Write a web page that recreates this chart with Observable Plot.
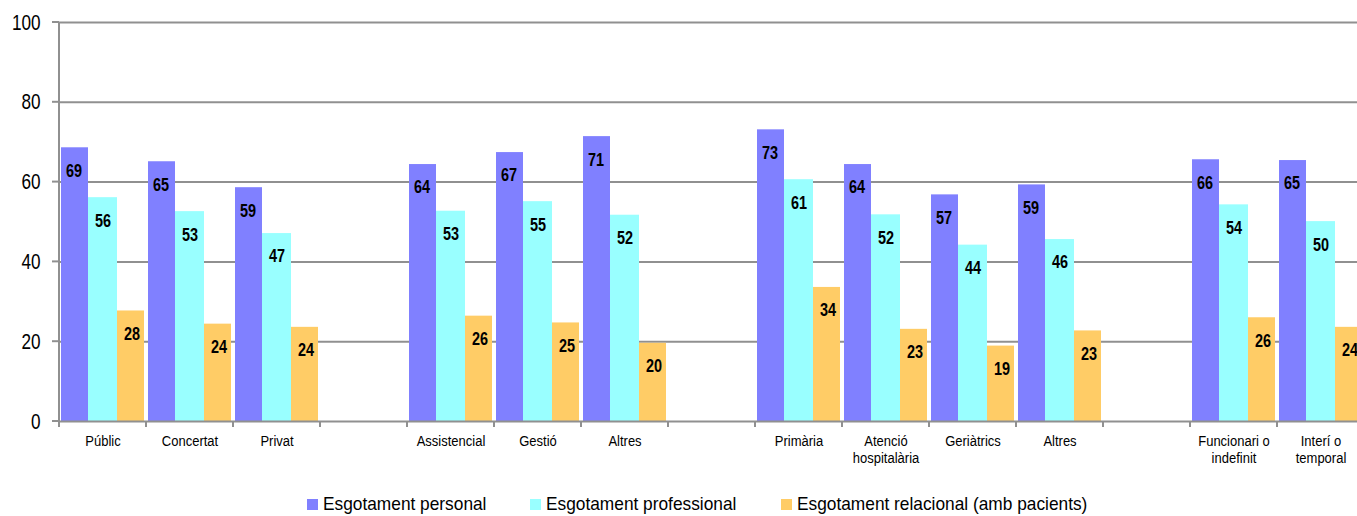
<!DOCTYPE html>
<html>
<head>
<meta charset="utf-8">
<script src="https://cdn.jsdelivr.net/npm/d3@7"></script>
<script src="https://cdn.jsdelivr.net/npm/@observablehq/plot@0.6"></script>
<style>
  html, body { margin: 0; padding: 0; background: #fff; overflow: hidden; }
  #chart svg { display: block; }
  .legend { position: relative; height: 46px; width: 1357px;
    font-family: "Liberation Sans", Arial, sans-serif; font-size: 18.5px; color: #000; }
  .legend .item { position: absolute; top: 34px; display: flex; align-items: center; white-space: nowrap; }
  .legend .sw { width: 11px; height: 11px; margin-right: 5px; flex: none; }
  .legend .lab { display: inline-block; transform: scaleX(0.935); transform-origin: left center; line-height: 22px; }
</style>
</head>
<body>
<div id="chart"></div>
<div class="legend" id="legend"></div>
<script>
// ---- data ----
const categories = ["Públic", "Concertat", "Privat", "", "Assistencial", "Gestió", "Altres", "",
  "Primària", "Atenció\nhospitalària", "Geriàtrics", "Altres", "", "Funcionari o\nindefinit", "Interí o\ntemporal"];
const seriesNames = ["Esgotament personal", "Esgotament professional", "Esgotament relacional (amb pacients)"];
const personal     = [68.6, 65.1, 58.6, null, 64.4, 67.4, 71.4, null, 73.1, 64.4, 56.8, 59.3, null, 65.6, 65.4];
const professional = [56.1, 52.6, 47.1, null, 52.7, 55.1, 51.7, null, 60.6, 51.8, 44.2, 45.6, null, 54.3, 50.1];
const relational   = [27.7, 24.4, 23.6, null, 26.4, 24.7, 19.6, null, 33.6, 23.1, 18.9, 22.7, null, 26.0, 23.6];
const yTicks = [0, 20, 40, 60, 80, 100];
const colors = ["#8080ff", "#99ffff", "#ffcc66"];

// ---- build table ----
const seriesValues = [personal, professional, relational];
const catKeys = categories.map((c, i) => "c" + i);
const xDomain = catKeys.flatMap(k => [0, 1, 2].map(j => k + "|" + j));
const rows = [];
seriesValues.forEach((vals, j) => vals.forEach((v, i) => {
  if (v != null) rows.push({key: catKeys[i] + "|" + j, s: seriesNames[j], j, v});
}));
const catRows = categories.map((c, i) => ({key: catKeys[i] + "|1", label: c}));

const gray = "#909090";
const font = "'Liberation Sans', Arial, sans-serif";

function axesLines(index, scales) {
  const x = scales.x, y = scales.y;
  const g = d3.create("svg:g").attr("stroke", gray).attr("stroke-width", 2).attr("fill", "none");
  const x0 = x(xDomain[0]);
  g.append("line").attr("x1", x0).attr("x2", x0).attr("y1", y(100)).attr("y2", y(0));
  for (const t of yTicks) {
    g.append("line").attr("x1", x0 - 7).attr("x2", x0).attr("y1", y(t)).attr("y2", y(t));
  }
  const bounds = catKeys.map(k => x(k + "|0"));
  bounds.push(x(xDomain[xDomain.length - 1]) + x.bandwidth());
  for (const b of bounds) {
    g.append("line").attr("x1", b).attr("x2", b).attr("y1", y(0)).attr("y2", y(0) + 6);
  }
  return g.node();
}

const fmt = d3.format(".0f");

const chart = Plot.plot({
  width: 1357,
  height: 470,
  marginTop: 22,
  marginBottom: 49,
  marginLeft: 59,
  marginRight: 0,
  style: {fontFamily: font, background: "#fff", overflow: "hidden", color: "#000"},
  x: {type: "band", domain: xDomain, range: [59, 1364], padding: 0, axis: null},
  y: {domain: [0, 100], axis: null},
  color: {domain: seriesNames, range: colors},
  marks: [
    Plot.ruleY(yTicks.filter(t => t > 0), {stroke: gray, strokeWidth: 2}),
    Plot.barY(rows.filter(d => d.j === 0), {x: "key", y: "v", fill: "s", insetLeft: 2, insetRight: 0}),
    Plot.barY(rows.filter(d => d.j === 1), {x: "key", y: "v", fill: "s", insetLeft: 0, insetRight: 0}),
    Plot.barY(rows.filter(d => d.j === 2), {x: "key", y: "v", fill: "s", insetLeft: 0, insetRight: 2}),
    Plot.ruleY([0], {stroke: gray, strokeWidth: 2}),
    axesLines,
    Plot.text(rows, {x: "key", y: "v", text: d => fmt(d.v), dy: 23, fontWeight: "bold",
      fontSize: 18.5, fill: "#000", className: "nar-bar"}),
    Plot.text(catRows, {x: "key", y: () => 0, text: "label", lineAnchor: "top", dy: 12,
      fontSize: 15.5, lineHeight: 1.1, fill: "#000", className: "nar-cat"}),
    Plot.text(yTicks, {y: d => d, text: d => String(d), frameAnchor: "left", textAnchor: "end",
      dx: -19, fontSize: 22, fill: "#000", className: "nar-y"})
  ]
});
document.getElementById("chart").appendChild(chart);

// horizontally condense the chart's texts (the reference uses a narrow face)
const squeeze = {"nar-bar": 0.78, "nar-cat": 0.84, "nar-y": 0.78};
for (const [cls, k] of Object.entries(squeeze)) {
  chart.querySelectorAll("." + cls + " text, g." + cls + " text, text." + cls).forEach(t => {
    const tr = t.getAttribute("transform") || "";
    t.setAttribute("transform", tr + ` scale(${k},1)`);
  });
}

// ---- legend ----
const legend = document.getElementById("legend");
const legendLeft = [307, 530, 781];
seriesNames.forEach((name, i) => {
  const item = document.createElement("div");
  item.className = "item";
  item.style.left = legendLeft[i] + "px";
  item.style.transform = "translateY(-50%)";
  const sw = document.createElement("div");
  sw.className = "sw";
  sw.style.background = colors[i];
  const label = document.createElement("span");
  label.className = "lab";
  label.textContent = name;
  item.appendChild(sw);
  item.appendChild(label);
  legend.appendChild(item);
});
</script>
</body>
</html>
